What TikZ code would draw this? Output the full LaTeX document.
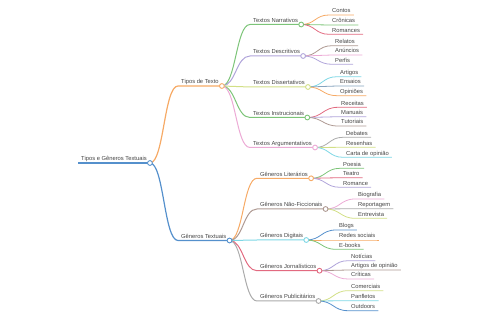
\documentclass[tikz,border=0pt]{standalone}
\usepackage{fontspec}
\setmainfont{Liberation Sans}
\usetikzlibrary{calc}
\definecolor{txt}{HTML}{444444}
\definecolor{mblue}{HTML}{5590CC}
\definecolor{morange}{HTML}{F6AA66}
\definecolor{mgreen}{HTML}{7CC478}
\definecolor{mred}{HTML}{E26A80}
\definecolor{mpurple}{HTML}{B0A4DA}
\definecolor{mbrown}{HTML}{AE9992}
\definecolor{mpink}{HTML}{ECAAD5}
\definecolor{mgray}{HTML}{ABABAB}
\definecolor{molive}{HTML}{D2DF86}
\definecolor{mcyan}{HTML}{7ED7E5}
\definecolor{msteel}{HTML}{86A3BE}
\tikzset{
  lbl/.style={anchor=base west, inner sep=0pt, font=\fontsize{5.8}{7}\selectfont, text=txt},
  link/.style={to path={let \p1=(\tikztostart), \p2=(\tikztotarget) in
      .. controls ({(\x1+\x2)/2},\y1) and ({(\x1+\x2)/2},\y2) .. (\tikztotarget)}},
  dot/.style={circle, draw=#1, fill=white, inner sep=0pt, minimum size=4.8pt, line width=0.9pt},
}
\newcommand\mmleaf[6]{%
  \coordinate (#1-s) at (#3-3,#4);
  \node[lbl] (#1) at (#3,#4-2) {#6};
  \draw[#5, line width=0.8pt] (#2) to[link] (#1-s) -- (#1-s -| #1.east) -- ++(3,0);
}
\newcommand\mmbranch[7]{%
  \coordinate (#1-s) at (#3,#4);
  \node[lbl] (#1) at (#3+3,#4-2) {#7};
  \path (#1-s -| #1.east) ++(3,0) coordinate (#1-c);
  \draw[#5, line width=#6] (#2) to[link] (#1-s) -- (#1-c);
}
\begin{document}
\begin{tikzpicture}[x=1pt,y=-1pt]
\useasboundingbox (0,0) rectangle (480,320);
% root
\coordinate (root-s) at (78,163);
\node[lbl] (root) at (81,161) {Tipos e Gêneros Textuais};
\path (root-s -| root.east) ++(3,0) coordinate (root-c);
\draw[mblue, line width=1.4pt] (root-s) -- (root-c);
% level 1
\mmbranch{tipos}{root-c}{178}{86}{morange}{1.2pt}{Tipos de Texto}
\mmbranch{gen}{root-c}{178}{240.5}{mblue}{1.2pt}{Gêneros Textuais}
% level 2 - tipos
\mmbranch{narr}{tipos-c}{250}{24.5}{mgreen}{1pt}{Textos Narrativos}
\mmbranch{desc}{tipos-c}{250}{56}{mpurple}{1pt}{Textos Descritivos}
\mmbranch{diss}{tipos-c}{250}{87}{molive}{1pt}{Textos Dissertativos}
\mmbranch{inst}{tipos-c}{250}{117.5}{mgreen}{1pt}{Textos Instrucionais}
\mmbranch{argu}{tipos-c}{250}{147.5}{mpink}{1pt}{Textos Argumentativos}
% level 2 - generos
\mmbranch{lit}{gen-c}{257}{178.3}{morange}{1pt}{Gêneros Literários}
\mmbranch{nfic}{gen-c}{257}{209}{mbrown}{1pt}{Gêneros Não-Ficcionais}
\mmbranch{dig}{gen-c}{257}{240}{mcyan}{1pt}{Gêneros Digitais}
\mmbranch{jor}{gen-c}{257}{270.7}{mred}{1pt}{Gêneros Jornalísticos}
\mmbranch{pub}{gen-c}{257}{301}{mgray}{1pt}{Gêneros Publicitários}
% leaves
\mmleaf{contos}{narr-c}{332}{15}{morange}{Contos}
\mmleaf{cron}{narr-c}{332}{25}{mgreen}{Crônicas}
\mmleaf{roms}{narr-c}{332}{34.3}{mred}{Romances}
\mmleaf{rel}{desc-c}{335}{45.7}{mbrown}{Relatos}
\mmleaf{anun}{desc-c}{335}{55}{mpink}{Anúncios}
\mmleaf{perf}{desc-c}{335}{64.3}{mpurple}{Perfis}
\mmleaf{artg}{diss-c}{340}{76.7}{mcyan}{Artigos}
\mmleaf{ens}{diss-c}{340}{86}{msteel}{Ensaios}
\mmleaf{opin}{diss-c}{340}{95.7}{morange}{Opiniões}
\mmleaf{rec}{inst-c}{341}{107.3}{mred}{Receitas}
\mmleaf{man}{inst-c}{341}{116.7}{mpurple}{Manuais}
\mmleaf{tut}{inst-c}{341}{126}{mbrown}{Tutoriais}
\mmleaf{deb}{argu-c}{346}{137.3}{mgray}{Debates}
\mmleaf{res}{argu-c}{346}{147.3}{molive}{Resenhas}
\mmleaf{carta}{argu-c}{346}{157.3}{mcyan}{Carta de opinião}
\mmleaf{poe}{lit-c}{343}{168.3}{mgreen}{Poesia}
\mmleaf{tea}{lit-c}{343}{177.7}{mred}{Teatro}
\mmleaf{rom}{lit-c}{343}{187.3}{mpurple}{Romance}
\mmleaf{bio}{nfic-c}{358}{199}{mpink}{Biografia}
\mmleaf{rep}{nfic-c}{358}{208.7}{mgray}{Reportagem}
\mmleaf{ent}{nfic-c}{358}{218.3}{molive}{Entrevista}
\mmleaf{blog}{dig-c}{339}{230}{mblue}{Blogs}
\mmleaf{redes}{dig-c}{339}{240}{morange}{Redes sociais}
\mmleaf{ebk}{dig-c}{339}{249.3}{mgreen}{E-books}
\mmleaf{not}{jor-c}{351}{260.7}{mpurple}{Notícias}
\mmleaf{artop}{jor-c}{351}{270}{mbrown}{Artigos de opinião}
\mmleaf{crit}{jor-c}{351}{279}{mpink}{Críticas}
\mmleaf{com}{pub-c}{351}{290.7}{molive}{Comerciais}
\mmleaf{panf}{pub-c}{351}{300.7}{mcyan}{Panfletos}
\mmleaf{outd}{pub-c}{351}{310.7}{mblue}{Outdoors}
% circles
\node[dot=mblue] (root-d) at (root-c) {};
\node[dot=morange] (tipos-d) at (tipos-c) {};
\node[dot=mblue] (gen-d) at (gen-c) {};
\node[dot=mgreen] (narr-d) at (narr-c) {};
\node[dot=mpurple] (desc-d) at (desc-c) {};
\node[dot=molive] (diss-d) at (diss-c) {};
\node[dot=mgreen] (inst-d) at (inst-c) {};
\node[dot=mpink] (argu-d) at (argu-c) {};
\node[dot=morange] (lit-d) at (lit-c) {};
\node[dot=mbrown] (nfic-d) at (nfic-c) {};
\node[dot=mcyan] (dig-d) at (dig-c) {};
\node[dot=mred] (jor-d) at (jor-c) {};
\node[dot=mgray] (pub-d) at (pub-c) {};
\end{tikzpicture}
\end{document}
